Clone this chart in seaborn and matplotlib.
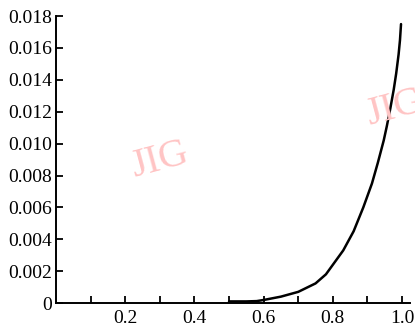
import numpy as np
import pandas as pd
import matplotlib
matplotlib.use("Agg")
import matplotlib.pyplot as plt
import seaborn as sns

# values
x_vals = [0.50, 0.55, 0.58, 0.60, 0.65, 0.70, 0.75, 0.78, 0.80, 0.83, 0.86,
          0.888, 0.913, 0.93, 0.947, 0.956, 0.966, 0.976, 0.983, 0.990,
          0.994, 0.997]
y_vals = [0.0001, 0.0001, 0.00012, 0.00019, 0.0004, 0.0007, 0.00123, 0.0018,
          0.0024, 0.0033, 0.0045, 0.006, 0.0075, 0.0088, 0.0102, 0.0111,
          0.0122, 0.0134, 0.0144, 0.0156, 0.0165, 0.0175]

x_ticks = [0.1, 0.2, 0.3, 0.4, 0.5, 0.6, 0.7, 0.8, 0.9, 1.0]
x_labels = ["", "0.2", "", "0.4", "", "0.6", "", "0.8", "", "1.0"]
y_ticks = [0, 0.002, 0.004, 0.006, 0.008, 0.010, 0.012, 0.014, 0.016, 0.018]
y_labels = ["0", "0.002", "0.004", "0.006", "0.008", "0.010", "0.012",
            "0.014", "0.016", "0.018"]

sns.set_style("ticks")
plt.rcParams["font.family"] = ["Liberation Serif", "DejaVu Serif"]

df = pd.DataFrame({"x": x_vals, "y": y_vals})

fig = plt.figure(figsize=(4.15, 3.29), dpi=100)
ax = fig.add_axes([0.135, 0.079, 0.853, 0.872])
sns.lineplot(data=df, x="x", y="y", ax=ax, color="black", linewidth=1.8)

ax.set_xlim(0, 1.023)
ax.set_ylim(0, 0.018)
ax.set_xticks(x_ticks)
ax.set_xticklabels(x_labels)
ax.set_yticks(y_ticks)
ax.set_yticklabels(y_labels)
ax.set_xlabel("")
ax.set_ylabel("")
ax.tick_params(direction="in", length=5, width=1.3, labelsize=14, colors="black")
ax.tick_params(axis="x", pad=5)
ax.tick_params(axis="y", pad=3)
for side in ["top", "right"]:
    ax.spines[side].set_visible(False)
for side in ["left", "bottom"]:
    ax.spines[side].set_linewidth(1.4)
    ax.spines[side].set_color("black")

# watermark
fig.text(0.386, 0.514, "JIG", fontsize=29, color="#ffc4c4", rotation=15,
         ha="center", va="center", zorder=0)
fig.text(0.872, 0.67, "JIG", fontsize=29, color="#ffc4c4", rotation=15,
         ha="left", va="center", zorder=0)

fig.savefig("out.png", dpi=100)
